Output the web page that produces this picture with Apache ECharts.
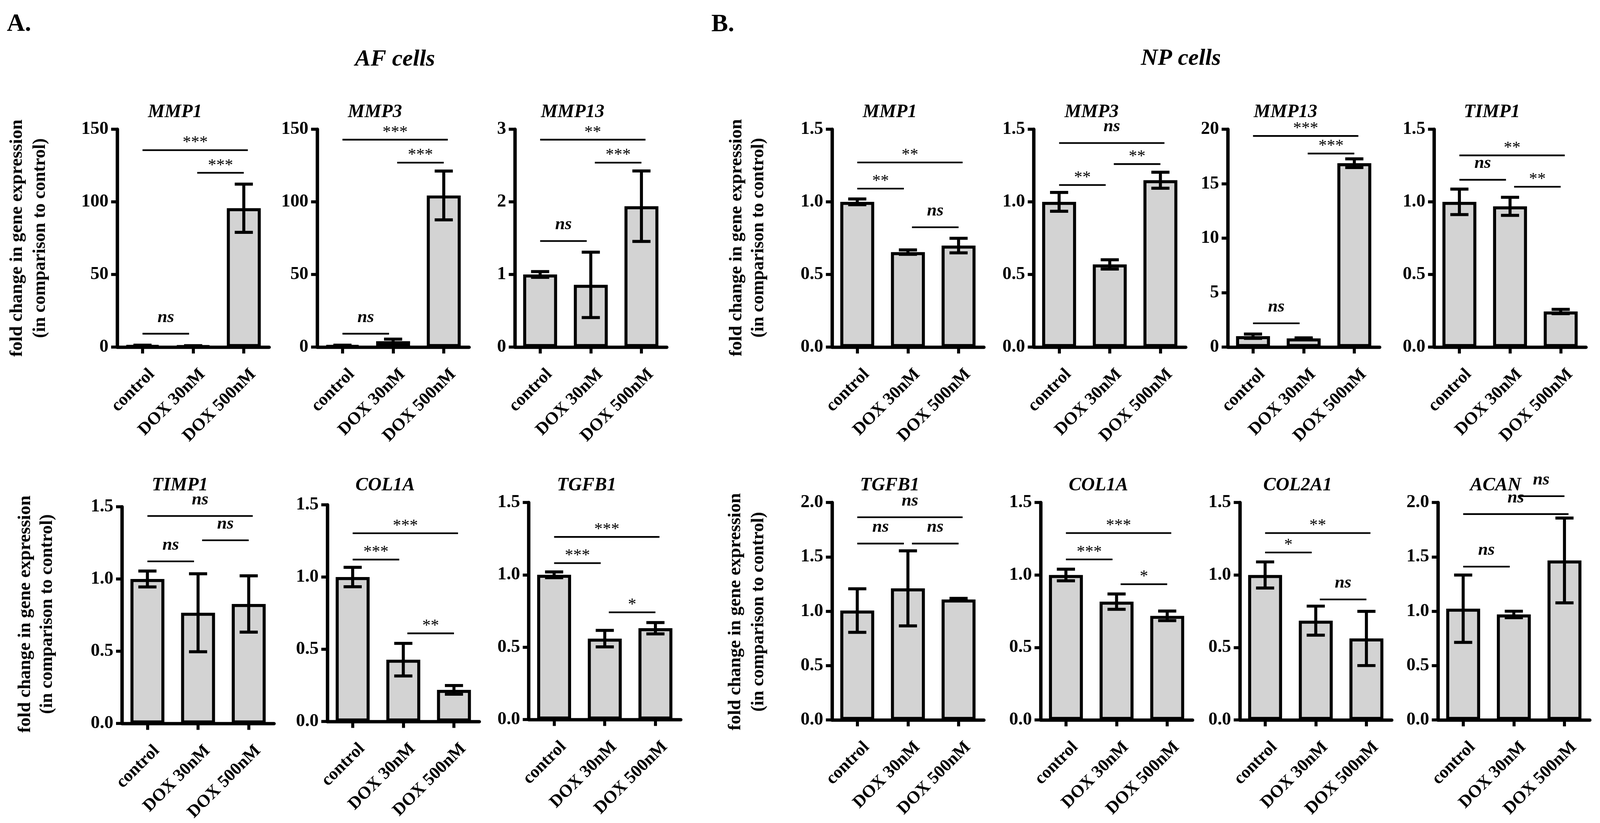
<!DOCTYPE html>
<html><head><meta charset="utf-8">
<script src="https://cdn.jsdelivr.net/npm/echarts@6/dist/echarts.min.js"></script>
<style>html,body{margin:0;padding:0;background:#fff;overflow:hidden}#c{width:100vw;height:100vh}</style>
</head><body><div id="c"></div>
<script>
// ---------------- DATA ----------------
const categories = ['control', 'DOX 30nM', 'DOX 500nM'];

// AF cells
const afMMP1Mean = [1.0, 0.8, 95.6];    const afMMP1Err = [0.3, 0.2, 16.6];
const afMMP3Mean = [1.0, 4.0, 104.4];   const afMMP3Err = [0.3, 1.5, 16.8];
const afMMP13Mean = [1.0, 0.857, 1.94]; const afMMP13Err = [0.04, 0.45, 0.485];
const afTIMP1Mean = [1.0, 0.766, 0.827]; const afTIMP1Err = [0.055, 0.27, 0.195];
const afCOL1AMean = [1.0, 0.428, 0.219]; const afCOL1AErr = [0.067, 0.113, 0.03];
const afTGFB1Mean = [1.0, 0.559, 0.631]; const afTGFB1Err = [0.02, 0.057, 0.039];
// NP cells
const npMMP1Mean = [1.0, 0.654, 0.699];  const npMMP1Err = [0.02, 0.015, 0.05];
const npMMP3Mean = [1.0, 0.569, 1.149];  const npMMP3Err = [0.065, 0.032, 0.055];
const npMMP13Mean = [1.0, 0.8, 16.88];   const npMMP13Err = [0.2, 0.05, 0.4];
const npTIMP1Mean = [1.0, 0.969, 0.245]; const npTIMP1Err = [0.088, 0.062, 0.015];
const npTGFB1Mean = [1.006, 1.21, 1.108]; const npTGFB1Err = [0.2, 0.345, 0.01];
const npCOL1AMean = [1.0, 0.816, 0.718]; const npCOL1AErr = [0.04, 0.053, 0.033];
const npCOL2A1Mean = [1.0, 0.685, 0.562]; const npCOL2A1Err = [0.09, 0.1, 0.187];
const npACANMean = [1.023, 0.97, 1.467]; const npACANErr = [0.31, 0.03, 0.39];

// significance brackets: [fromCategory, toCategory, label, height (data units)]
const afMMP1Sig = [[0,1,'ns',9.2],[1,2,'***',120],[0,2,'***',135.6]];
const afMMP3Sig = [[0,1,'ns',9.2],[1,2,'***',127],[0,2,'***',142.8]];
const afMMP13Sig = [[0,1,'ns',1.46],[1,2,'***',2.54],[0,2,'**',2.856]];
const afTIMP1Sig = [[0,1,'ns',1.122],[1,2,'ns',1.268],[0,2,'ns',1.436]];
const afCOL1ASig = [[0,1,'***',1.121],[1,2,'**',0.61],[0,2,'***',1.303]];
const afTGFB1Sig = [[0,1,'***',1.081],[1,2,'*',0.741],[0,2,'***',1.262]];
const npMMP1Sig = [[0,1,'**',1.091],[1,2,'ns',0.825],[0,2,'**',1.271]];
const npMMP3Sig = [[0,1,'**',1.116],[1,2,'**',1.26],[0,2,'ns',1.405]];
const npMMP13Sig = [[0,1,'ns',2.18],[1,2,'***',17.77],[0,2,'***',19.38]];
const npTIMP1Sig = [[0,1,'ns',1.152],[1,2,'**',1.104],[0,2,'**',1.32]];
const npTGFB1Sig = [[0,1,'ns',1.622],[1,2,'ns',1.622],[0,2,'ns',1.864]];
const npCOL1ASig = [[0,1,'***',1.107],[1,2,'*',0.936],[0,2,'***',1.289]];
const npCOL2A1Sig = [[0,1,'*',1.155],[1,2,'ns',0.831],[0,2,'**',1.289]];
const npACANSig = [[0,1,'ns',1.41],[0,2,'ns',1.893],[1,2,'ns',2.058]];

// y-axis scales: [max, interval]
const yScales = {
  s150: [150, 50], s3: [3, 1], s15: [1.5, 0.5], s20: [20, 5], s2: [2, 0.5]
};

// ---------------- LAYOUT (reference is 4233 x 2108) ----------------
const el = document.getElementById('c');
const VW = el.clientWidth || window.innerWidth, VH = el.clientHeight || window.innerHeight;
const sx = VW / 4233, sy = VH / 2108, sc = Math.min(sx, sy);
const X = v => v * sx, Y = v => v * sy, S = v => v * sc;

const panels = [
  {t:'MMP1',  m:afMMP1Mean,  e:afMMP1Err,  s:afMMP1Sig,  y:yScales.s150, L:310,  T:331, H:558},
  {t:'MMP3',  m:afMMP3Mean,  e:afMMP3Err,  s:afMMP3Sig,  y:yScales.s150, L:839,  T:331, H:558},
  {t:'MMP13', m:afMMP13Mean, e:afMMP13Err, s:afMMP13Sig, y:yScales.s3,   L:1362, T:331, H:558},
  {t:'TIMP1', m:afTIMP1Mean, e:afTIMP1Err, s:afTIMP1Sig, y:yScales.s15,  L:323,  T:1298, H:555},
  {t:'COL1A', m:afCOL1AMean, e:afCOL1AErr, s:afCOL1ASig, y:yScales.s15,  L:866,  T:1293, H:555},
  {t:'TGFB1', m:afTGFB1Mean, e:afTGFB1Err, s:afTGFB1Sig, y:yScales.s15,  L:1399, T:1287, H:556},
  {t:'MMP1',  m:npMMP1Mean,  e:npMMP1Err,  s:npMMP1Sig,  y:yScales.s15,  L:2201, T:331, H:558},
  {t:'MMP3',  m:npMMP3Mean,  e:npMMP3Err,  s:npMMP3Sig,  y:yScales.s15,  L:2735, T:331, H:558},
  {t:'MMP13', m:npMMP13Mean, e:npMMP13Err, s:npMMP13Sig, y:yScales.s20,  L:3248, T:331, H:558},
  {t:'TIMP1', m:npTIMP1Mean, e:npTIMP1Err, s:npTIMP1Sig, y:yScales.s15,  L:3794, T:331, H:558},
  {t:'TGFB1', m:npTGFB1Mean, e:npTGFB1Err, s:npTGFB1Sig, y:yScales.s2,   L:2201, T:1287, H:557},
  {t:'COL1A', m:npCOL1AMean, e:npCOL1AErr, s:npCOL1ASig, y:yScales.s15,  L:2753, T:1287, H:557},
  {t:'COL2A1',m:npCOL2A1Mean,e:npCOL2A1Err,s:npCOL2A1Sig,y:yScales.s15,  L:3280, T:1287, H:557},
  {t:'ACAN',  m:npACANMean,  e:npACANErr,  s:npACANSig,  y:yScales.s2,   L:3804, T:1287, H:557}
];
const W = 402;
const SERIF = '"Liberation Serif","Times New Roman",serif';
const px = v => Math.round(S(v)) + 'px ';

const grid = [], xAxis = [], yAxis = [], series = [], graphic = [];

panels.forEach((p, i) => {
  grid.push({left: X(p.L), top: Y(p.T), width: X(W), height: Y(p.H), containLabel: false});
  xAxis.push({
    type: 'category', gridIndex: i, data: categories,
    axisLine: {show: true, lineStyle: {color: '#000', width: S(9)}},
    axisTick: {show: true, alignWithLabel: true, length: S(17), lineStyle: {color: '#000', width: S(8)}},
    axisLabel: {interval: 0, rotate: 45, margin: S(90), padding: [0, -S(35), 0, 0],
      fontFamily: SERIF, fontWeight: 'bold', fontSize: S(46), color: '#000'},
    splitLine: {show: false}
  });
  const dec = p.y[1] < 1 ? 1 : 0;
  yAxis.push({
    type: 'value', gridIndex: i, min: 0, max: p.y[0], interval: p.y[1],
    axisLine: {show: true, lineStyle: {color: '#000', width: S(9)}},
    axisTick: {show: true, length: S(16), lineStyle: {color: '#000', width: S(8)}},
    axisLabel: {margin: S(23), fontFamily: SERIF, fontWeight: 'bold', fontSize: S(48), color: '#000',
      formatter: v => v.toFixed(dec)},
    splitLine: {show: false}
  });
  series.push({
    type: 'bar', xAxisIndex: i, yAxisIndex: i, data: p.m, barWidth: '67%',
    itemStyle: {color: '#d3d3d3', borderColor: '#000', borderWidth: S(8)}, z: 2
  });
  series.push({
    type: 'custom', xAxisIndex: i, yAxisIndex: i, z: 4,
    data: p.m.map((v, k) => [k, v, p.e[k]]),
    renderItem: (params, api) => {
      const k = api.value(0), m = api.value(1), e = api.value(2);
      const a = api.coord([k, m + e]), b = api.coord([k, m - e]);
      const hw = S(24), st = {stroke: '#000', lineWidth: S(8)};
      return {type: 'group', children: [
        {type: 'line', shape: {x1: a[0], y1: a[1], x2: b[0], y2: b[1]}, style: st},
        {type: 'line', shape: {x1: a[0] - hw, y1: a[1], x2: a[0] + hw, y2: a[1]}, style: st},
        {type: 'line', shape: {x1: b[0] - hw, y1: b[1], x2: b[0] + hw, y2: b[1]}, style: st}
      ]};
    }
  });
  series.push({
    type: 'custom', xAxisIndex: i, yAxisIndex: i, z: 4, clip: false,
    data: p.s.map(s => [s[0], s[3]]),
    renderItem: (params, api) => {
      const s = p.s[params.dataIndex];
      const a = s[0], b = s[1];
      let f1 = a, f2 = b;
      if (b - a === 2) f2 = b + 0.08; else if (a === 0) f2 = b - 0.08; else f1 = a + 0.08;
      const c0 = api.coord([0, s[3]]), c1 = api.coord([1, s[3]]);
      const step = c1[0] - c0[0];
      const x1 = c0[0] + f1 * step, x2 = c0[0] + f2 * step, y = c0[1];
      const isNs = s[2] === 'ns';
      return {type: 'group', children: [
        {type: 'line', shape: {x1: x1, y1: y, x2: x2, y2: y}, style: {stroke: '#000', lineWidth: S(4.5)}},
        {type: 'text', x: (x1 + x2) / 2, y: y - S(isNs ? 43 : 19),
          style: {text: s[2], align: 'center', verticalAlign: 'middle', fill: '#000',
            font: isNs ? 'italic bold ' + px(46) + SERIF : px(44) + SERIF}}
      ]};
    }
  });
  // panel title
  graphic.push({type: 'text', x: X(p.L + W / 2 - 48), y: Y(p.T < 1000 ? 288 : 1244),
    style: {text: p.t, align: 'center', verticalAlign: 'middle', fill: '#000',
      font: 'italic bold ' + px(50) + SERIF}});
});

// Figure labels
const bigLabels = [['A.', 18, 62], ['B.', 1882, 63]];
bigLabels.forEach(b => graphic.push({type: 'text', x: X(b[1]), y: Y(b[2]),
  style: {text: b[0], align: 'left', verticalAlign: 'middle', fill: '#000', font: 'bold ' + px(66) + SERIF}}));
const groupTitles = [['AF cells', 1045, 152], ['NP cells', 3124, 150]];
groupTitles.forEach(g => graphic.push({type: 'text', x: X(g[1]), y: Y(g[2]),
  style: {text: g[0], align: 'center', verticalAlign: 'middle', fill: '#000', font: 'italic bold ' + px(62) + SERIF}}));

const yTitle1 = 'fold change in gene expression';
const yTitle2 = '(in comparison to control)';
const yTitlePos = [[45, 107, 610], [67, 125, 1573], [1949, 2007, 609], [1946, 2007, 1567]];
yTitlePos.forEach(q => {
  graphic.push({type: 'text', x: X(q[0]), y: Y(q[2]), rotation: Math.PI / 2,
    style: {text: yTitle1, align: 'center', verticalAlign: 'middle', fill: '#000', font: 'bold ' + px(49) + SERIF}});
  graphic.push({type: 'text', x: X(q[1]), y: Y(q[2]), rotation: Math.PI / 2,
    style: {text: yTitle2, align: 'center', verticalAlign: 'middle', fill: '#000', font: 'bold ' + px(48) + SERIF}});
});

const chart = echarts.init(el, null, {renderer: 'canvas'});
chart.setOption({
  animation: false,
  backgroundColor: '#fff',
  grid: grid, xAxis: xAxis, yAxis: yAxis, series: series, graphic: graphic
});
</script></body></html>
